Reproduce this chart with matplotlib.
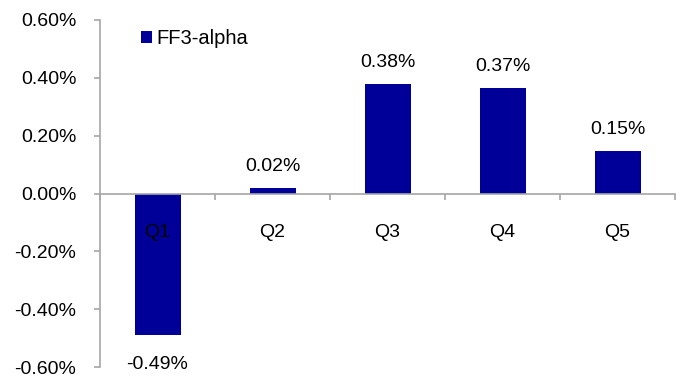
import numpy as np
import matplotlib.pyplot as plt
from matplotlib.ticker import FuncFormatter, MultipleLocator

categories = ["Q1", "Q2", "Q3", "Q4", "Q5"]
alpha = [-0.49, 0.02, 0.38, 0.365, 0.147]
labels = ["-0.49%", "0.02%", "0.38%", "0.37%", "0.15%"]

plt.rcParams['font.family'] = ['Liberation Sans', 'DejaVu Sans']
bar_color = '#000099'
axis_color = '#a6a6a6'

fig = plt.figure(figsize=(6.87, 3.87), dpi=100)
ax = fig.add_axes([100 / 687, 1 - 367 / 387, 575 / 687, 347 / 387])

x = np.arange(len(categories))
ax.bar(x, alpha, width=0.4, color=bar_color, label="FF3-alpha")

ax.set_xlim(-0.5, len(categories) - 0.5)
ax.set_ylim(-0.6, 0.6)
ax.yaxis.set_major_locator(MultipleLocator(0.2))
ax.yaxis.set_major_formatter(FuncFormatter(lambda v, p: f"{v:.2f}%"))

for s in ['top', 'right']:
    ax.spines[s].set_visible(False)
ax.spines['bottom'].set_position(('data', 0))
for s in ['left', 'bottom']:
    ax.spines[s].set_color(axis_color)
    ax.spines[s].set_linewidth(1.2)

ax.tick_params(axis='y', direction='out', length=4, width=1.2, color=axis_color,
               labelsize=14, pad=13)
ax.set_xticks(x)
ax.set_xticklabels(categories)
ax.set_xticks(np.arange(len(categories) + 1) - 0.5, minor=True)
ax.tick_params(axis='x', which='major', length=0, labelsize=14, pad=22)
ax.tick_params(axis='x', which='minor', direction='out', length=4, width=1.2,
               color=axis_color)

for xi, v, t in zip(x, alpha, labels):
    if v >= 0:
        ax.annotate(t, (xi, v), xytext=(0, 9), textcoords='offset points',
                    ha='center', va='bottom', fontsize=14)
    else:
        ax.annotate(t, (xi, v), xytext=(0, -15), textcoords='offset points',
                    ha='center', va='top', fontsize=14)

ax.legend(loc='upper left', bbox_to_anchor=(0.04, 1.025), frameon=False,
          fontsize=14.5, handlelength=0.55, handleheight=0.55, handletextpad=0.2)

fig.savefig("out.png", dpi=100)
